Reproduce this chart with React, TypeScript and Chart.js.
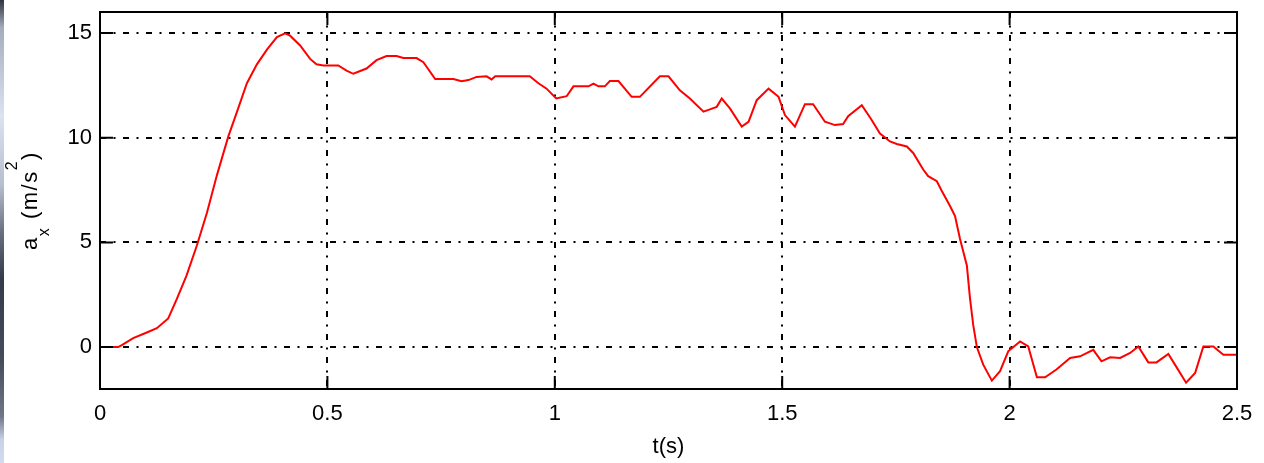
import React, { useEffect, useRef } from "react";
import { Chart, registerables } from "chart.js";

Chart.register(...registerables);

// ---- data ----
const tValues = [
  0, 0.04, 0.048, 0.073, 0.099, 0.125, 0.15, 0.169, 0.19, 0.213,
  0.235, 0.257, 0.282, 0.3, 0.323, 0.345, 0.367, 0.389, 0.407, 0.418,
  0.44, 0.462, 0.476, 0.491, 0.524, 0.542, 0.557, 0.586, 0.608, 0.63,
  0.652, 0.667, 0.696, 0.711, 0.737, 0.777, 0.795, 0.81, 0.828, 0.85,
  0.861, 0.869, 0.945, 0.964, 0.982, 1.003, 1.026, 1.041, 1.074, 1.085,
  1.096, 1.11, 1.121, 1.14, 1.169, 1.187, 1.231, 1.25, 1.275, 1.297,
  1.327, 1.341, 1.356, 1.367, 1.385, 1.411, 1.426, 1.444, 1.47, 1.492,
  1.506, 1.528, 1.55, 1.568, 1.594, 1.616, 1.634, 1.645, 1.675, 1.695,
  1.715, 1.737, 1.752, 1.774, 1.788, 1.81, 1.821, 1.84, 1.851, 1.869,
  1.88, 1.891, 1.906, 1.913, 1.92, 1.928, 1.942, 1.961, 1.979, 1.997,
  2.023, 2.041, 2.06, 2.078, 2.103, 2.133, 2.155, 2.184, 2.202, 2.221,
  2.243, 2.265, 2.283, 2.305, 2.323, 2.349, 2.368, 2.388, 2.408, 2.426,
  2.448, 2.47, 2.5,
];

const axValues = [
  0, 0, 0.1, 0.43, 0.66, 0.9, 1.37, 2.3, 3.4, 4.85,
  6.4, 8.2, 10.05, 11.16, 12.6, 13.5, 14.2, 14.8, 14.98, 14.87,
  14.4, 13.76, 13.5, 13.45, 13.45, 13.2, 13.05, 13.3, 13.7, 13.9,
  13.9, 13.8, 13.8, 13.6, 12.8, 12.8, 12.7, 12.75, 12.9, 12.93,
  12.78, 12.93, 12.93, 12.6, 12.34, 11.87, 11.98, 12.45, 12.45, 12.58,
  12.45, 12.45, 12.7, 12.7, 11.95, 11.95, 12.93, 12.93, 12.26, 11.87,
  11.24, 11.35, 11.47, 11.87, 11.4, 10.53, 10.76, 11.79, 12.34, 11.95,
  11.08, 10.53, 11.6, 11.6, 10.76, 10.6, 10.65, 11.03, 11.55, 10.9,
  10.2, 9.82, 9.7, 9.58, 9.27, 8.48, 8.16, 7.92, 7.45, 6.74,
  6.26, 5.16, 3.9, 2.32, 1.06, 0, -0.84, -1.6, -1.15, -0.2,
  0.27, 0.03, -1.44, -1.44, -1.07, -0.52, -0.44, -0.13, -0.68, -0.49,
  -0.52, -0.28, 0.03, -0.73, -0.73, -0.33, -0.99, -1.7, -1.23, 0.03,
  0.03, -0.36, -0.36,
];

const xTickValues = [0, 0.5, 1, 1.5, 2, 2.5];
const yTickValues = [0, 5, 10, 15];
const xRange = [0, 2.5];
const yRange = [-2, 16];
const xAxisTitle = "t(s)";
const yTitleParts: { text: string; kind: "normal" | "sub" | "sup" }[] = [
  { text: "a", kind: "normal" },
  { text: "x", kind: "sub" },
  { text: " (m/s", kind: "normal" },
  { text: "2", kind: "sup" },
  { text: ")", kind: "normal" },
];

const FONT = "'Liberation Sans', Arial, Helvetica, sans-serif";

const framePlugin = {
  id: "matlabFrame",
  afterDraw(chart: any) {
    const { ctx, chartArea: a, scales } = chart;
    ctx.save();

    // left screenshot edge strip
    const g = ctx.createLinearGradient(0, 0, 0, chart.height);
    g.addColorStop(0, "#2f343e");
    g.addColorStop(0.06, "#a4adbf");
    g.addColorStop(0.25, "#dbe3f1");
    g.addColorStop(0.4, "#b6bfcd");
    g.addColorStop(0.5, "#6a7282");
    g.addColorStop(0.6, "#343b4b");
    g.addColorStop(0.78, "#454c5a");
    g.addColorStop(0.9, "#707888");
    g.addColorStop(0.95, "#c8d2e8");
    g.addColorStop(1, "#d2dcf0");
    ctx.fillStyle = g;
    ctx.fillRect(0, 0, 4, chart.height);

    // frame
    ctx.strokeStyle = "#000";
    ctx.lineWidth = 2;
    ctx.strokeRect(a.left, a.top, a.right - a.left, a.bottom - a.top);

    // inward ticks
    const tl = 13;
    ctx.beginPath();
    for (const v of xTickValues) {
      const px = scales.x.getPixelForValue(v);
      ctx.moveTo(px, a.bottom);
      ctx.lineTo(px, a.bottom - tl);
      ctx.moveTo(px, a.top);
      ctx.lineTo(px, a.top + tl);
    }
    for (const v of yTickValues) {
      const py = scales.y.getPixelForValue(v);
      ctx.moveTo(a.left, py);
      ctx.lineTo(a.left + tl, py);
      ctx.moveTo(a.right, py);
      ctx.lineTo(a.right - tl, py);
    }
    ctx.stroke();

    // y title with subscript / superscript
    const fontFor = (k: string) => (k === "normal" ? `22px ${FONT}` : `16px ${FONT}`);
    const offFor = (k: string) => (k === "sub" ? 11.5 : k === "sup" ? -20 : 0);
    try {
      (ctx as any).letterSpacing = "1.5px";
    } catch (e) {}
    let total = 0;
    const widths: number[] = [];
    for (const p of yTitleParts) {
      ctx.font = fontFor(p.kind);
      const w = ctx.measureText(p.text).width;
      widths.push(w);
      total += w;
    }
    ctx.translate(37, (a.top + a.bottom) / 2);
    ctx.rotate(-Math.PI / 2);
    ctx.fillStyle = "#000";
    ctx.textBaseline = "alphabetic";
    ctx.textAlign = "left";
    let x = -total / 2;
    yTitleParts.forEach((p, i) => {
      ctx.font = fontFor(p.kind);
      ctx.fillText(p.text, x, offFor(p.kind));
      x += widths[i];
    });
    ctx.restore();
  },
};

export default function App() {
  const ref = useRef<HTMLCanvasElement | null>(null);

  useEffect(() => {
    document.body.style.margin = "0";
    const canvas = ref.current;
    if (!canvas) return;
    Chart.defaults.font.family = FONT;
    Chart.defaults.color = "#000";

    const chart = new Chart(canvas, {
      type: "line",
      data: {
        datasets: [
          {
            data: tValues.map((t, i) => ({ x: t, y: axValues[i] })),
            borderColor: "#ff0000",
            borderWidth: 2,
            pointRadius: 0,
            tension: 0,
            fill: false,
          },
        ],
      },
      options: {
        animation: false,
        responsive: false,
        devicePixelRatio: 1,
        layout: { padding: { top: 12, right: 27, bottom: 0, left: 0 } },
        plugins: {
          legend: { display: false },
          tooltip: { enabled: false },
        },
        scales: {
          x: {
            type: "linear",
            min: xRange[0],
            max: xRange[1],
            afterBuildTicks: (s: any) => {
              s.ticks = xTickValues.map((v) => ({ value: v }));
            },
            afterFit: (s: any) => {
              s.height = 74;
              s.paddingLeft = 0;
              s.paddingRight = 0;
            },
            ticks: {
              font: { size: 22, family: FONT },
              color: "#000",
              padding: 12,
              maxRotation: 0,
              autoSkip: false,
              callback: (v: any) => String(v),
            },
            grid: { color: "#000", lineWidth: 2, drawTicks: false },
            border: { display: false, dash: [6, 7.5, 2, 7.5] },
            title: {
              display: true,
              text: xAxisTitle,
              font: { size: 22, family: FONT },
              color: "#000",
              padding: { top: 0, bottom: 3 },
            },
          },
          y: {
            type: "linear",
            min: yRange[0],
            max: yRange[1],
            afterBuildTicks: (s: any) => {
              s.ticks = yTickValues.map((v) => ({ value: v }));
            },
            afterFit: (s: any) => {
              s.width = 100;
              s.paddingTop = 0;
              s.paddingBottom = 0;
            },
            ticks: {
              font: { size: 22, family: FONT },
              color: "#000",
              padding: 8,
              autoSkip: false,
              callback: (v: any) => String(v),
            },
            grid: { color: "#000", lineWidth: 2, drawTicks: false },
            border: { display: false, dash: [6, 7.5, 2, 7.5] },
          },
        },
      },
      plugins: [framePlugin],
    } as any);

    return () => chart.destroy();
  }, []);

  return (
    <div style={{ width: 1264, height: 463, background: "#fff" }}>
      <canvas ref={ref} width={1264} height={463} style={{ display: "block" }} />
    </div>
  );
}
